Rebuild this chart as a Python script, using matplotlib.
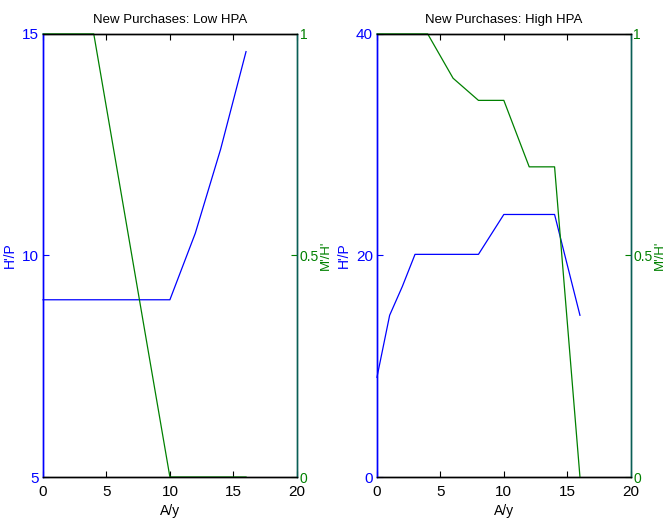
import numpy as np
import matplotlib.pyplot as plt

plt.rcParams['font.family'] = ['Liberation Sans', 'DejaVu Sans']

# low house price appreciation
age_low = [0, 2, 4, 6, 8, 10, 12, 14, 16]
hp_low = [9, 9, 9, 9, 9, 9, 10.5, 12.4, 14.6]
mh_low = [1, 1, 1, 0.667, 0.333, 0, 0, 0, 0]

# high house price appreciation
age_high = [0, 1, 2, 3, 4, 6, 8, 10, 12, 14, 16]
hp_high = [9, 14.6, 17.2, 20.1, 20.1, 20.1, 20.1, 23.7, 23.7, 23.7, 14.6]
mh_high = [1, 1, 1, 1, 1, 0.9, 0.85, 0.85, 0.7, 0.7, 0]

titles = ['New Purchases: Low HPA', 'New Purchases: High HPA']
hp_lims = [(5, 15), (0, 40)]
hp_ticks = [[5, 10, 15], [0, 20, 40]]

blue = (0, 0, 1)
green = (0, 0.5, 0)

fig = plt.figure(figsize=(6.66, 5.25), dpi=100)
lefts = [0.0646, 0.566]
series = [(age_low, hp_low, mh_low), (age_high, hp_high, mh_high)]

for i in range(2):
    ax = fig.add_axes([lefts[i], 0.0914, 0.381, 0.844])
    ax2 = ax.twinx()
    x, hp, mh = series[i]
    ax.plot(x, hp, color=blue, lw=0.9, clip_on=False)
    ax2.plot(x, mh, color=green, lw=0.9, clip_on=False)

    ax.set_xlim(0, 20)
    ax.set_xticks([0, 5, 10, 15, 20])
    ax.set_ylim(*hp_lims[i])
    ax.set_yticks(hp_ticks[i])
    ax2.set_ylim(0, 1)
    ax2.set_yticks([0, 0.5, 1])
    ax2.set_yticklabels(['0', '0.5', '1'])

    ax.set_title(titles[i], fontsize=9.5, pad=8)
    ax.set_xlabel('A/y', fontsize=10, labelpad=3)
    ax.set_ylabel("H'/P", color=blue, fontsize=10)
    ax.yaxis.set_label_coords(-0.103, 0.5)
    ax2.set_ylabel("M'/H'", color=green, fontsize=9.5, rotation=90)
    ax2.yaxis.set_label_coords(1.09, 0.5)

    ax.tick_params(axis='x', direction='in', top=True, length=4, labelsize=11, pad=6)
    ax.tick_params(axis='y', direction='in', colors=blue, length=4, labelsize=11, pad=3)
    ax2.tick_params(axis='y', direction='in', colors=green, length=4, labelsize=10, pad=2)
    for a in (ax, ax2):
        a.spines['left'].set_color(blue)
        a.spines['right'].set_color('#0a5f55')
        a.spines['top'].set_color('black')
        a.spines['bottom'].set_color('black')
        for s in a.spines.values():
            s.set_linewidth(1.0)

fig.savefig('out.png', dpi=100)
